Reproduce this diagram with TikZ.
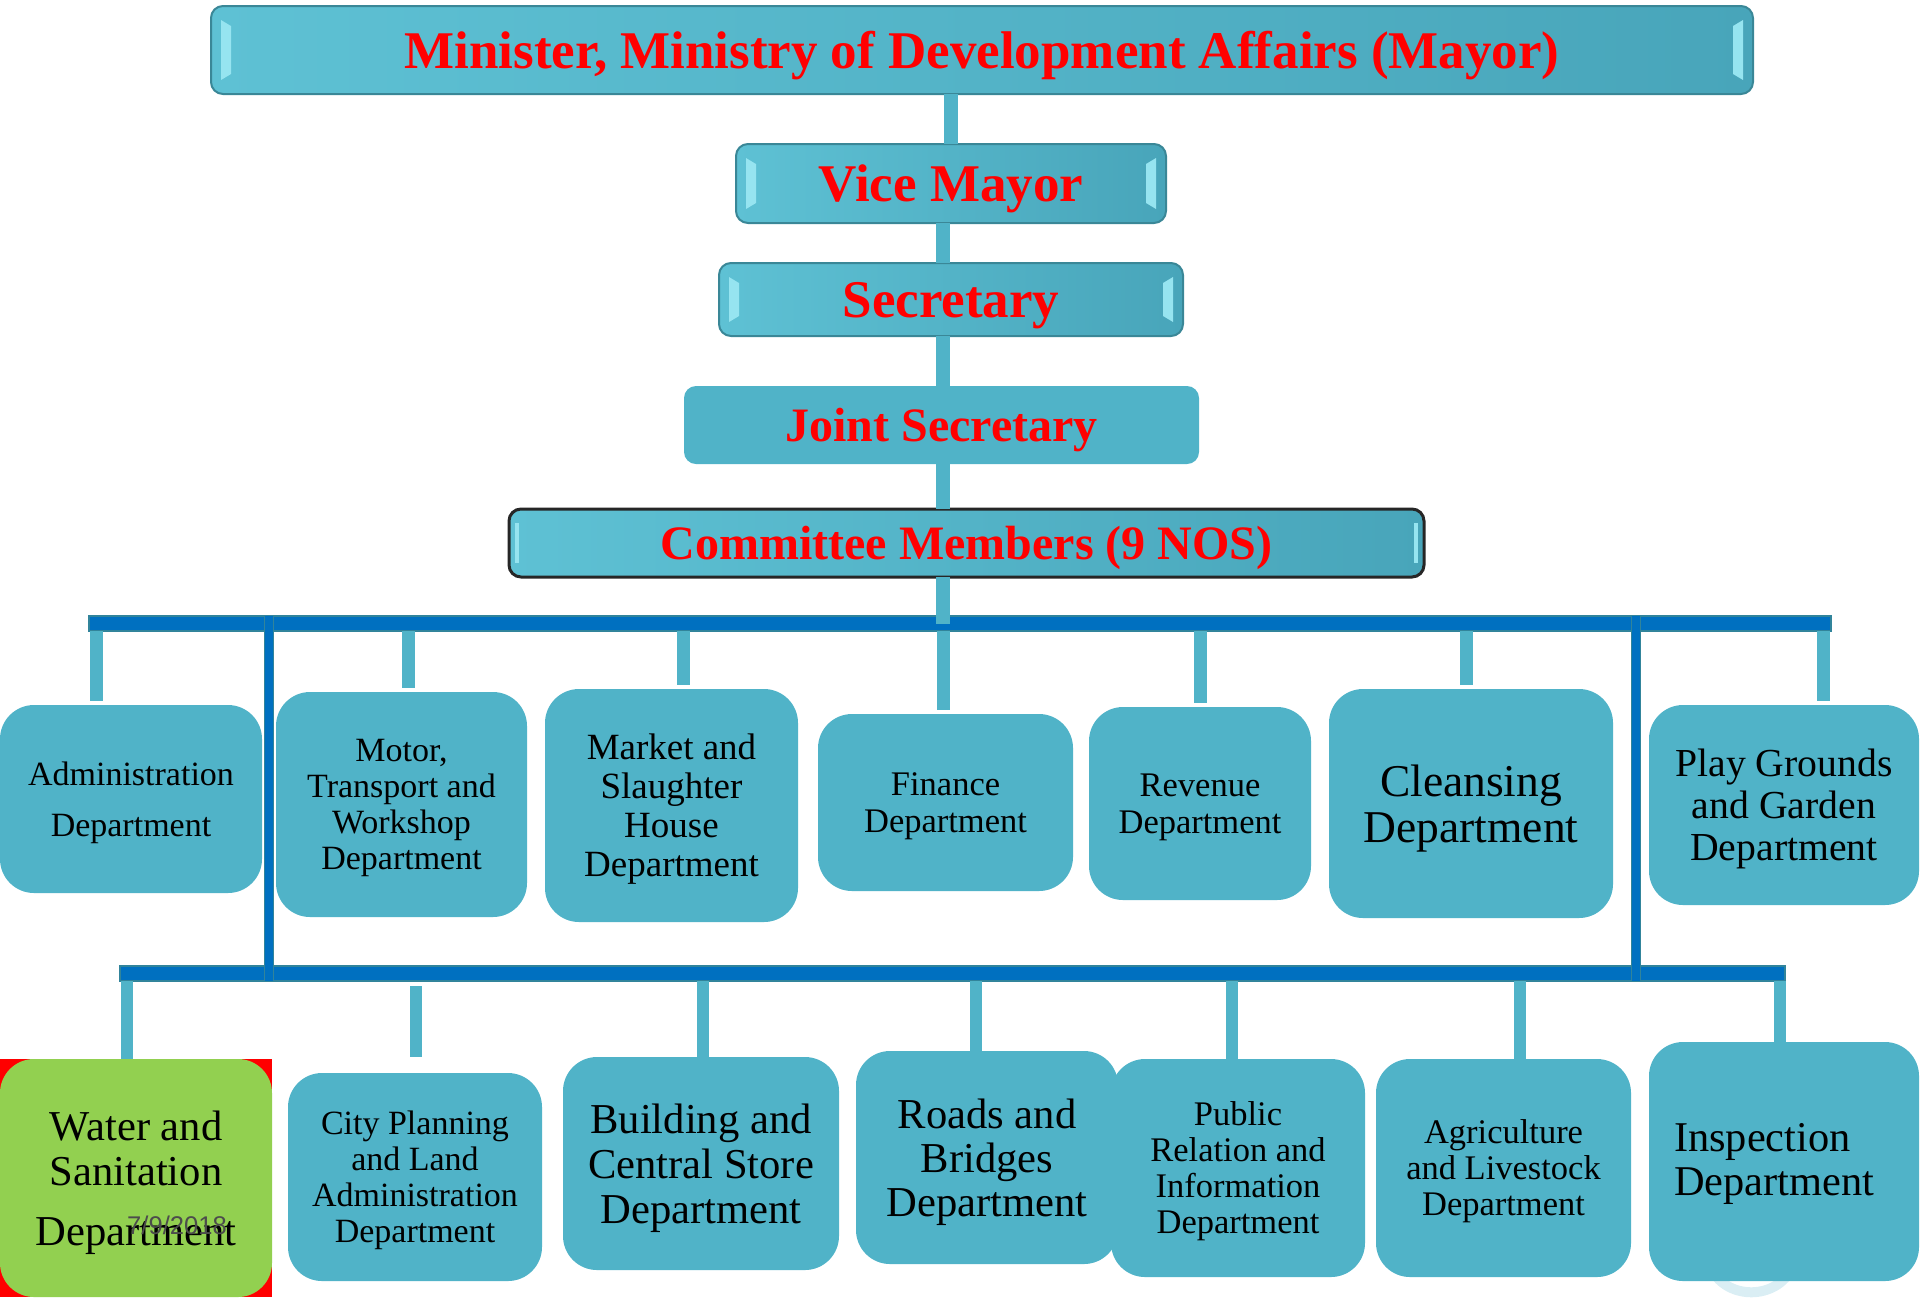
\documentclass[tikz,border=0pt]{standalone}
\usepackage{fontspec}
\setmainfont{Liberation Serif}
\newfontfamily\datefont{Liberation Sans}
\usetikzlibrary{positioning}

\definecolor{aqua}{RGB}{80,179,200}
\definecolor{aqualight}{RGB}{94,193,212}
\definecolor{aquadark}{RGB}{72,165,186}
\definecolor{aquaedge}{RGB}{58,135,151}
\definecolor{bevel}{RGB}{150,228,240}
\definecolor{barblue}{RGB}{0,112,192}
\definecolor{baredge}{RGB}{49,132,155}
\definecolor{leafgreen}{RGB}{146,208,80}
\definecolor{ghostblue}{RGB}{218,238,244}

\tikzset{
  hfs/.style={font=\fontsize{#1}{30}\selectfont\bfseries},
  fs/.style 2 args={font=\fontsize{#1}{#2}\selectfont},
  headbox/.style={text=red, inner sep=0pt, outer sep=0pt, text depth=0pt, rounded corners=6pt},
  hdr/.style={headbox, draw=aquaedge, line width=1pt, left color=aqualight, right color=aquadark},
  dept/.style={fill=aqua, rounded corners=17pt, inner sep=0pt, outer sep=0pt, text depth=0pt, align=center},
  link/.style={draw=aqua, line width=7pt},
  stub/.style={draw=aqua, line width=6.5pt},
  busbar/.style={fill=barblue, draw=baredge, line width=1pt, inner sep=0pt, outer sep=0pt},
  vbar/.style={draw=baredge, line width=0.8pt, double=barblue, double distance=3.6pt},
}

\begin{document}
\begin{tikzpicture}[x=0.5pt, y=-0.5pt]
  \useasboundingbox (0,0) rectangle (1920,1297);

  % faint mark under the last box
  \draw[ghostblue, line width=5pt] (1712,1270) .. controls (1728,1300) and (1776,1300) .. (1792,1268);

  % Head of the chain
  \node[hdr, hfs=26.5, minimum width=771pt, minimum height=44pt] (minister) at (982,50)
    {Minister, Ministry of Development Affairs (Mayor)};
  \node[hdr, hfs=26.5, minimum width=215pt, minimum height=39.5pt] (vice) at (951,183.5) {Vice Mayor};
  \node[hdr, hfs=26.5, minimum width=232pt, minimum height=36.5pt] (sec) at (951,299.5) {Secretary};
  \node[headbox, fill=aqua, hfs=24, minimum width=257.5pt, minimum height=39pt] (joint) at (941.5,425) {Joint Secretary};
  \node[hdr, draw=black!85, line width=1.5pt, hfs=24, minimum width=457.5pt, minimum height=34pt] (comm) at (966.5,543)
    {Committee Members (9 NOS)};

  % bevel strips on the raised boxes
  \foreach \n in {minister,vice,sec} {
    \fill[bevel] ([shift={(5pt,-7pt)}]\n.north west) -- ([shift={(10pt,-10pt)}]\n.north west)
      -- ([shift={(10pt,10pt)}]\n.south west) -- ([shift={(5pt,7pt)}]\n.south west) -- cycle;
    \fill[bevel] ([shift={(-5pt,-7pt)}]\n.north east) -- ([shift={(-10pt,-10pt)}]\n.north east)
      -- ([shift={(-10pt,10pt)}]\n.south east) -- ([shift={(-5pt,7pt)}]\n.south east) -- cycle;
  }
  \fill[bevel] ([shift={(3pt,-7pt)}]comm.north west) rectangle ([shift={(5pt,7pt)}]comm.south west);
  \fill[bevel] ([shift={(-3pt,-7pt)}]comm.north east) rectangle ([shift={(-5pt,7pt)}]comm.south east);

  % Bus bars
  \node[busbar, minimum width=871pt, minimum height=7.5pt] (bartop) at (960,623.5) {};
  \node[busbar, minimum width=832.5pt, minimum height=7.5pt] (barbot) at (952.5,973.5) {};

  % First row of departments
  \node[dept, fs={17}{25.5}, minimum width=131pt, minimum height=94pt] (admin) at (131,799)
    {Administration\\Department};
  \node[dept, fs={17}{18}, minimum width=125.5pt, minimum height=112.5pt] (motor) at (401.5,804.5)
    {Motor,\\Transport and\\Workshop\\Department};
  \node[dept, fs={18.5}{19.5}, minimum width=126.5pt, minimum height=116.5pt] (market) at (671.5,805.5)
    {Market and\\Slaughter\\House\\Department};
  \node[dept, fs={17.25}{18.5}, minimum width=127.5pt, minimum height=88.5pt] (finance) at (945.5,802.5)
    {Finance\\Department};
  \node[dept, fs={17.25}{18.5}, minimum width=111pt, minimum height=96.5pt] (revenue) at (1200,803.5)
    {Revenue\\Department};
  \node[dept, fs={22.75}{23.25}, minimum width=142pt, minimum height=114.5pt] (clean) at (1471,803.5)
    {Cleansing\\Department};
  \node[dept, fs={19.85}{21}, minimum width=135pt, minimum height=100pt] (play) at (1784,805)
    {Play Grounds\\and Garden\\Department};

  % Second row of departments
  \fill[red] (0,1059) rectangle (272,1297);
  \node[dept, fill=leafgreen, fs={21.3}{22.5}, minimum width=136pt, minimum height=119pt] (water) at (136,1178)
    {Water and\\Sanitation\\[7.5pt]Department};
  \node[dept, fs={17}{18}, minimum width=127pt, minimum height=104pt] (city) at (415,1177)
    {City Planning\\and Land\\Administration\\Department};
  \node[dept, fs={21.3}{22.4}, minimum width=138pt, minimum height=106.5pt] (build) at (701,1163.5)
    {Building and\\Central Store\\Department};
  \node[dept, fs={21.3}{22}, minimum width=131pt, minimum height=106.5pt] (roads) at (987,1157.5)
    {Roads and\\Bridges\\Department};
  \node[dept, fs={17.25}{18}, minimum width=127pt, minimum height=109pt] (public) at (1238,1168)
    {Public\\Relation and\\Information\\Department};
  \node[dept, fs={17.25}{18}, minimum width=127.5pt, minimum height=109pt] (agri) at (1503.5,1168)
    {Agriculture\\and Livestock\\Department};
  \node[dept, align=left, text width=110pt, text depth=24pt, fs={21.2}{22}, minimum width=135pt, minimum height=119.5pt] (insp) at (1784,1161.5)
    {Inspection\\Department};

  \node[font=\datefont\fontsize{12.8}{14}\selectfont, text=black!70] (date) at (177,1225) {7/9/2018};

  % Main spine
  \coordinate (spine0) at (951,0);
  \coordinate (spine) at (943,0);
  \draw[link] (minister.south -| spine0) -- (vice.north -| spine0);
  \draw[link] (vice.south -| spine) -- (sec.north -| spine);
  \draw[link] (sec.south -| spine) -- (joint.north -| spine);
  \draw[link] (joint.south -| spine) -- (comm.north -| spine);
  \draw[link] (comm.south -| spine) -- (bartop.center -| spine);

  % Uprights between the bars
  \coordinate (vl) at (269,0);
  \coordinate (vr) at (1636,0);
  \draw[vbar] (bartop.north -| vl) -- (barbot.south -| vl);
  \draw[vbar] (bartop.north -| vr) -- (barbot.south -| vr);

  % Drops to the departments
  \foreach \n/\x in {admin/96, motor/408, market/683, finance/943, revenue/1200, clean/1466, play/1823} {
    \coordinate (x\n) at (\x,0);
    \draw[stub, shorten >=2pt] (bartop.south -| x\n) -- (\n.north -| x\n);
  }
  \foreach \n/\x in {water/127, build/703, roads/976, public/1232, agri/1520, insp/1780} {
    \coordinate (x\n) at (\x,0);
    \draw[stub, line width=6pt] (barbot.south -| x\n) -- (\n.north -| x\n);
  }
  \coordinate (xcity) at (416,0);
  \draw[stub, line width=6pt, shorten <=2.5pt, shorten >=8pt] (barbot.south -| xcity) -- (city.north -| xcity);
\end{tikzpicture}
\end{document}
